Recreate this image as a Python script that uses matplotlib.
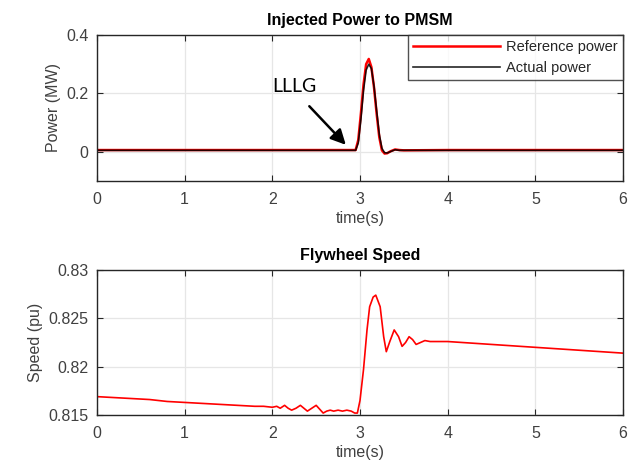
import matplotlib
matplotlib.use("Agg")
import matplotlib.pyplot as plt

# ---- data ----
t_power = [0.0, 0.5, 1.0, 1.5, 2.0, 2.5, 2.95, 2.98, 3.01, 3.04, 3.07, 3.10, 3.13, 3.16, 3.19,
           3.22, 3.25, 3.28, 3.31, 3.35, 3.40, 3.45, 3.5, 4.0, 5.0, 6.0]
ref_power = [0.006, 0.006, 0.006, 0.006, 0.006, 0.006, 0.006, 0.04, 0.13, 0.23, 0.30, 0.318, 0.29,
             0.22, 0.13, 0.05, 0.005, -0.006, -0.005, 0.002, 0.008, 0.006, 0.005, 0.006, 0.006, 0.006]
act_power = [0.005, 0.005, 0.005, 0.005, 0.005, 0.005, 0.005, 0.03, 0.11, 0.21, 0.28, 0.300, 0.285,
             0.225, 0.14, 0.06, 0.012, -0.003, -0.004, 0.001, 0.007, 0.005, 0.005, 0.005, 0.005, 0.005]

t_speed = [0.0, 0.2, 0.4, 0.6, 0.8, 1.0, 1.2, 1.4, 1.6, 1.8, 1.9, 2.0,
           2.05, 2.09, 2.14, 2.18, 2.22, 2.27, 2.32, 2.36, 2.40, 2.45, 2.50, 2.54, 2.58,
           2.62, 2.66, 2.70, 2.75, 2.80, 2.85, 2.90, 2.94, 2.97,
           3.00, 3.04, 3.08, 3.11, 3.15, 3.18, 3.23, 3.27, 3.30, 3.34, 3.39, 3.44,
           3.48, 3.52, 3.56, 3.60, 3.64, 3.69, 3.74, 3.80, 3.90, 4.0, 4.5, 5.0, 5.5, 6.0]
speed = [0.8169, 0.8168, 0.8167, 0.8166, 0.8164, 0.8163, 0.8162, 0.8161, 0.8160, 0.8159, 0.8159, 0.8158,
         0.8159, 0.8157, 0.8160, 0.8157, 0.8155, 0.8157, 0.8160, 0.8157, 0.8154, 0.8157, 0.8160, 0.8156, 0.8152,
         0.8154, 0.8155, 0.8154, 0.8155, 0.8154, 0.8155, 0.8154, 0.8152, 0.8152,
         0.8165, 0.8197, 0.8238, 0.8262, 0.8272, 0.8274, 0.8262, 0.8231, 0.82155, 0.8226, 0.8238, 0.8231,
         0.8221, 0.8225, 0.8231, 0.8228, 0.8223, 0.8225, 0.8227, 0.8226, 0.8226, 0.8226, 0.8223, 0.8220, 0.8217, 0.8214]

x_ticks = [0, 1, 2, 3, 4, 5, 6]
p_ticks = [0, 0.2, 0.4]
s_ticks = [0.815, 0.82, 0.825, 0.83]
s_tick_labels = ["0.815", "0.82", "0.825", "0.83"]

plt.rcParams['font.family'] = ['Liberation Sans', 'DejaVu Sans']
W, H = 639, 471
fig = plt.figure(figsize=(W / 100, H / 100), dpi=100)

def box(l, t, r, b):
    return [l / W, 1 - b / H, (r - l) / W, (b - t) / H]

ax1 = fig.add_axes(box(97, 35, 623, 181))
ax2 = fig.add_axes(box(97, 270, 623, 415))

tick_col = '#404040'
for ax in (ax1, ax2):
    ax.grid(True, color='#e6e6e6', linewidth=0.9)
    ax.set_axisbelow(True)
    ax.tick_params(direction='in', top=True, right=True, length=4, width=0.8,
                   colors='#262626', labelcolor=tick_col, labelsize=11.5, pad=8)
    for s in ax.spines.values():
        s.set_color('#262626')
        s.set_linewidth(1.0)
    ax.set_xlim(0, 6)
    ax.set_xticks(x_ticks)
    ax.set_xlabel('time(s)', fontsize=11.5, color=tick_col, labelpad=3)

ax1.plot(t_power, ref_power, color='red', linewidth=1.8, label='Reference power')
ax1.plot(t_power, act_power, color='black', linewidth=1.2, alpha=0.85, label='Actual power')
ax1.set_ylim(-0.1, 0.4)
ax1.set_yticks(p_ticks)
ax1.set_yticklabels(['0', '0.2', '0.4'])
ax1.tick_params(axis='y', pad=6)
ax1.set_ylabel('Power (MW)', fontsize=11.5, color=tick_col, labelpad=4)
ax1.set_title('Injected Power to PMSM', fontsize=11.5, fontweight='bold', pad=7)
leg = ax1.legend(loc='upper right', borderaxespad=0, fontsize=10.5, frameon=True,
                 fancybox=False, handlelength=6.0, borderpad=0.35, labelspacing=0.45,
                 handletextpad=0.4)
leg.get_frame().set_edgecolor('#262626')
leg.get_frame().set_linewidth(1.0)
for txt in leg.get_texts():
    txt.set_color('#262626')

ax1.annotate('', xy=(2.86, 0.017), xytext=(2.40, 0.163),
             arrowprops=dict(arrowstyle='-|>,head_length=0.9,head_width=0.45', color='black', lw=1.8))
ax1.text(2.25, 0.225, 'LLLG', fontsize=14, ha='center', va='center', color='black',
         family=['Lato', 'DejaVu Sans'])

ax2.plot(t_speed, speed, color='red', linewidth=1.2)
ax2.set_ylim(0.815, 0.83)
ax2.set_yticks(s_ticks)
ax2.set_yticklabels(s_tick_labels)
ax2.tick_params(axis='y', pad=6)
ax2.set_ylabel('Speed (pu)', fontsize=11.5, color=tick_col, labelpad=4)
ax2.set_title('Flywheel Speed', fontsize=11.5, fontweight='bold', pad=7)

fig.savefig('out.png', dpi=100)
